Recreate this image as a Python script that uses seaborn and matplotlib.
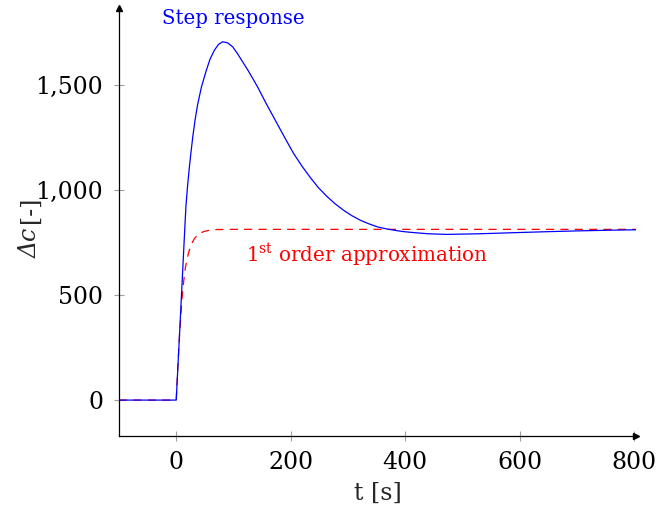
import matplotlib
matplotlib.use("Agg")
import matplotlib.pyplot as plt
import matplotlib.ticker as mticker
import seaborn as sns
import pandas as pd

# Step response
t_step = [-100, 0, 5, 10, 14, 17, 20, 23, 26, 29, 33, 37.6, 44, 52, 59, 66.7, 74, 81,
          90, 98.7, 107, 116, 125, 133.6, 142, 150, 158, 167, 176, 190, 205, 220,
          234.8, 249, 264, 278, 293, 307, 322, 337, 351.5, 366, 380.5, 395, 409,
          440, 473, 530, 589, 650, 706, 760, 805]
c_step = [0, 0, 270, 545, 765, 925, 1025, 1110, 1185, 1255, 1335, 1410, 1490, 1565,
          1623, 1666, 1694, 1706, 1701, 1682, 1650, 1611, 1572, 1532, 1492, 1450, 1408,
          1363, 1318, 1248, 1175, 1113, 1058, 1010, 968, 934, 903, 878, 856, 839, 825,
          816, 809, 803, 799, 792, 789, 792, 797, 802, 806, 809, 811]

# 1st order approximation
t_first = [-100, 0, 3, 6, 10, 13, 16, 20, 23, 27, 32, 40, 49, 60, 70, 100, 300, 500, 805]
c_first = [0, 0, 170, 320, 480, 565, 630, 685, 715, 745, 770, 793, 803, 810, 812, 813,
           813, 813, 813]

x_ticks = [0, 200, 400, 600, 800]
y_ticks = [0, 500, 1000, 1500]

df_step = pd.DataFrame({"t": t_step, "c": c_step})
df_first = pd.DataFrame({"t": t_first, "c": c_first})

sns.set_theme(style="white")
plt.rcParams["font.family"] = ["DejaVu Serif"]
plt.rcParams["mathtext.fontset"] = "dejavuserif"

W, H = 659, 515
fig = plt.figure(figsize=(W / 100, H / 100), dpi=100)
ax = fig.add_axes([119 / W, 1 - 436 / H, (636 - 119) / W, (436 - 8) / H])

sns.lineplot(data=df_first, x="t", y="c", ax=ax, color="#ff0000", lw=0.9,
             estimator=None, sort=False)
ax.lines[-1].set_dashes((6.5, 5))
sns.lineplot(data=df_step, x="t", y="c", ax=ax, color="#0000ff", lw=0.9,
             estimator=None, sort=False)

ax.set_xlim(-100, 803.5)
ax.set_ylim(-171, 1867)
ax.set_xticks(x_ticks)
ax.set_yticks(y_ticks)
ax.yaxis.set_major_formatter(mticker.FuncFormatter(lambda v, p: f"{int(v):,}"))

for s in ["top", "right"]:
    ax.spines[s].set_visible(False)
for s in ["left", "bottom"]:
    ax.spines[s].set_color("black")
    ax.spines[s].set_linewidth(0.9)

ax.tick_params(axis="both", which="major", direction="inout", length=7, width=0.8,
               color="#a0a0a0", labelsize=17, labelcolor="black", pad=8)
ax.tick_params(axis="x", pad=7)
ax.tick_params(left=True, bottom=True)

# axis arrows
ax.plot(1, 0, marker=">", color="black", markersize=5, transform=ax.transAxes, clip_on=False)
ax.plot(0, 1, marker="^", color="black", markersize=5, transform=ax.transAxes, clip_on=False)

ax.set_xlabel("t [s]", fontsize=17, labelpad=6)
ax.set_ylabel("")

# y label: italic "Δc" followed by upright "[-]"
lab1 = fig.text(30 / W, 1 - 258 / H, "Δc", style="italic", fontsize=17, rotation=90,
                rotation_mode="anchor", ha="left", va="center")
fig.canvas.draw()
bb = lab1.get_window_extent(renderer=fig.canvas.get_renderer())
fig.text(30 / W, (bb.y1 + 5) / H, "[-]", fontsize=17, rotation=90,
         rotation_mode="anchor", ha="left", va="center")

ax.text(-24.5, 1819, "Step response", color="#0000ff", fontsize=14.2, ha="left", va="center")
ax.text(122, 690, r"1$^{\mathrm{st}}$ order approximation", color="#ff0000", fontsize=14.3,
        ha="left", va="center")

fig.savefig("out.png", dpi=100)
